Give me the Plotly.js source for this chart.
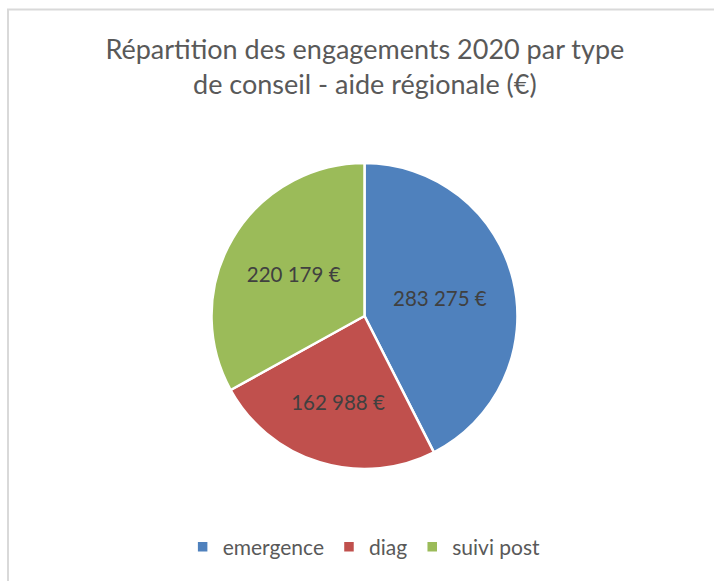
<!DOCTYPE html>
<html>
<head>
<meta charset="utf-8">
<script src="https://cdn.plot.ly/plotly-3.0.1.min.js"></script>
<style>html,body{margin:0;padding:0;background:#fff;}</style>
</head>
<body>
<div id="chart" style="width:714px;height:581px;"></div>
<script>
const categories = ["emergence", "diag", "suivi post"];
const values = [283275, 162988, 220179];
const colors = ["#4f81bd", "#c0504d", "#9bbb59"];
const titleText = "Répartition des engagements 2020 par type<br>de conseil - aide régionale (€)";

const trace = {
  type: "pie",
  labels: categories,
  values: values,
  sort: false,
  direction: "clockwise",
  rotation: 0,
  marker: {colors: colors, line: {color: "#ffffff", width: 2.5}},
  texttemplate: "%{value:,.0f} €",
  textposition: "inside",
  insidetextorientation: "horizontal",
  textfont: {family: "Lato, 'Open Sans', sans-serif", size: 20.5, color: "#404040"},
  hoverinfo: "label+value+percent",
  domain: {x: [0.2962, 0.7248], y: [0.1928, 0.7194]}
};

const layout = {
  width: 714,
  height: 581,
  margin: {l: 0, r: 0, t: 0, b: 0},
  separators: ", ",
  paper_bgcolor: "#ffffff",
  title: {
    text: titleText,
    font: {family: "Lato, 'Open Sans', sans-serif", size: 27, color: "#595959"},
    x: 0.511, xanchor: "center",
    y: 0.898, yanchor: "middle", yref: "container"
  },
  showlegend: true,
  legend: {
    orientation: "h",
    x: 0.510, xanchor: "center",
    y: 0.0585, yanchor: "middle",
    font: {family: "Lato, 'Open Sans', sans-serif", size: 21, color: "#595959"},
    itemwidth: 30
  },
  shapes: [{
    type: "rect", xref: "paper", yref: "paper",
    x0: 0.0112, x1: 1.02, y0: -0.02, y1: 0.9836,
    line: {color: "#d9d9d9", width: 2}, fillcolor: "rgba(0,0,0,0)"
  }]
};

Plotly.newPlot("chart", [trace], layout, {displayModeBar: false, staticPlot: true});
</script>
</body>
</html>
